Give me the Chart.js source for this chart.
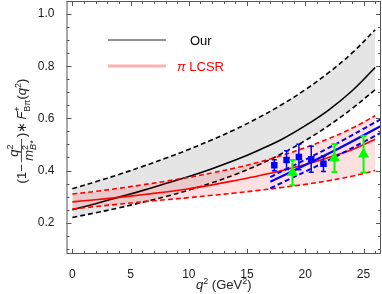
<!DOCTYPE html>
<html>
<head>
<meta charset="utf-8">
<script src="https://cdn.jsdelivr.net/npm/chart.js@4.4.1/dist/chart.umd.min.js"></script>
<style>
  body { margin: 0; background: #fff; }
  canvas { display: block; }
</style>
</head>
<body>
<canvas id="ffChart" width="382" height="294"></canvas>
<script>
// q^2 grid for the two bands
const qGrid = [0, 2, 4, 6, 8, 10, 12, 14, 16, 18, 20, 22, 24, 26];
const ourCentral = [0.25, 0.273, 0.298, 0.323, 0.35, 0.377, 0.407, 0.44, 0.478, 0.52, 0.572, 0.632, 0.705, 0.795];
const ourUpper = [0.33, 0.357, 0.385, 0.415, 0.447, 0.481, 0.518, 0.558, 0.603, 0.653, 0.71, 0.775, 0.85, 0.94];
const ourLower = [0.22, 0.238, 0.257, 0.278, 0.30, 0.325, 0.353, 0.385, 0.422, 0.465, 0.515, 0.572, 0.637, 0.71];
const lcsrCentral = [0.28, 0.288, 0.297, 0.307, 0.318, 0.33, 0.345, 0.362, 0.38, 0.40, 0.423, 0.45, 0.48, 0.52];
const lcsrUpper = [0.31, 0.32, 0.332, 0.345, 0.359, 0.374, 0.391, 0.41, 0.432, 0.458, 0.488, 0.522, 0.562, 0.61];
const lcsrLower = [0.252, 0.262, 0.271, 0.28, 0.288, 0.296, 0.305, 0.314, 0.324, 0.335, 0.347, 0.361, 0.378, 0.40];

// lattice fit (blue lines)
const latQ = [17, 22, 26.5];
const latCentral = [0.357, 0.465, 0.571];
const latUpper = [0.375, 0.487, 0.597];
const latLower = [0.332, 0.44, 0.545];

// data points
const sqQ = [17.34, 18.39, 19.45, 20.51, 21.56];
const sqVal = [0.42, 0.44, 0.452, 0.443, 0.426];
const sqErr = [0.021, 0.036, 0.049, 0.05, 0.03];
const triQ = [18.9, 22.5, 25.0];
const triVal = [0.392, 0.448, 0.462];
const triErr = [0.048, 0.054, 0.07];

// ticks
const xTicks = [0, 5, 10, 15, 20, 25];
const yTicks = [0.2, 0.4, 0.6, 0.8, 1.0];

const FONT = '"Liberation Sans", Arial, sans-serif';

function pts(xs, ys) {
    return xs.map((x, i) => ({ x: x, y: ys[i] }));
}

function curve(xs, ys, color, dashed, extra) {
    return Object.assign({
        data: pts(xs, ys),
        borderColor: color,
        borderWidth: 1.6,
        borderDash: dashed ? [5, 3] : [],
        pointRadius: 0,
        fill: false,
        tension: 0.4
    }, extra || {});
}

// error bars for the two point sets
const errorBars = {
    id: 'errorBars',
    afterDatasetsDraw(chart) {
        const x = chart.scales.x, y = chart.scales.y, ctx = chart.ctx;
        const sets = [
            { q: sqQ, v: sqVal, e: sqErr, color: '#0000ff', w: 1.5, cap: 2.5 },
            { q: triQ, v: triVal, e: triErr, color: '#00ff00', w: 2, cap: 3 }
        ];
        ctx.save();
        sets.forEach(s => {
            ctx.strokeStyle = s.color;
            ctx.lineWidth = s.w;
            s.q.forEach((q, i) => {
                const px = x.getPixelForValue(q);
                const top = y.getPixelForValue(s.v[i] + s.e[i]);
                const bot = y.getPixelForValue(s.v[i] - s.e[i]);
                ctx.beginPath();
                ctx.moveTo(px, top); ctx.lineTo(px, bot);
                ctx.moveTo(px - s.cap, top); ctx.lineTo(px + s.cap, top);
                ctx.moveTo(px - s.cap, bot); ctx.lineTo(px + s.cap, bot);
                ctx.stroke();
            });
        });
        ctx.restore();
    }
};

// frame with inward ticks, legend and axis titles
const decorations = {
    id: 'decorations',
    afterDraw(chart) {
        const ctx = chart.ctx, a = chart.chartArea;
        const x = chart.scales.x, y = chart.scales.y;
        ctx.save();
        ctx.strokeStyle = '#555';
        ctx.lineWidth = 1;
        ctx.strokeRect(a.left + 0.5, a.top + 0.5, a.right - a.left - 1, a.bottom - a.top - 1);
        ctx.beginPath();
        for (let v = 0; v <= 26; v++) {
            const px = Math.round(x.getPixelForValue(v)) + 0.5;
            const len = v % 5 === 0 ? 5 : 3;
            ctx.moveTo(px, a.bottom); ctx.lineTo(px, a.bottom - len);
            ctx.moveTo(px, a.top); ctx.lineTo(px, a.top + len);
        }
        for (let k = 2; k <= 21; k++) {
            const v = k * 0.05;
            const py = Math.round(y.getPixelForValue(v)) + 0.5;
            const len = k % 4 === 0 ? 5 : 3;
            ctx.moveTo(a.left, py); ctx.lineTo(a.left + len, py);
            ctx.moveTo(a.right, py); ctx.lineTo(a.right - len, py);
        }
        ctx.stroke();

        // legend
        ctx.lineWidth = 1;
        ctx.strokeStyle = '#222';
        ctx.beginPath(); ctx.moveTo(108, 40); ctx.lineTo(166, 40); ctx.stroke();
        ctx.lineWidth = 3;
        ctx.strokeStyle = '#ffb0b0';
        ctx.beginPath(); ctx.moveTo(108, 66); ctx.lineTo(166, 66); ctx.stroke();
        ctx.textBaseline = 'alphabetic';
        ctx.textAlign = 'left';
        ctx.fillStyle = '#000';
        ctx.font = '13px ' + FONT;
        ctx.fillText('Our', 190, 45);
        ctx.fillStyle = '#ff0000';
        ctx.font = 'italic 13px ' + FONT;
        ctx.fillText('π', 177, 71);
        const piW = ctx.measureText('π ').width;
        ctx.font = '13px ' + FONT;
        ctx.fillText('LCSR', 177 + piW, 71);

        // x title
        ctx.fillStyle = '#222';
        const xt = [
            { t: 'q', f: 'italic 13px ' + FONT, dy: 0 },
            { t: '2', f: '9px ' + FONT, dy: -5 },
            { t: ' (GeV', f: '13px ' + FONT, dy: 0 },
            { t: '2', f: '9px ' + FONT, dy: -5 },
            { t: ')', f: '13px ' + FONT, dy: 0 }
        ];
        let tw = 0;
        xt.forEach(p => { ctx.font = p.f; p.w = ctx.measureText(p.t).width; tw += p.w; });
        let cx = (a.left + a.right) / 2 - tw / 2;
        xt.forEach(p => { ctx.font = p.f; ctx.fillText(p.t, cx, 289 + p.dy); cx += p.w; });

        drawYTitle(ctx);
        ctx.restore();
    }
};

function drawYTitle(ctx) {
    const big = '13px ' + FONT, bigIt = 'italic 13px ' + FONT;
    const sm = '9px ' + FONT, smIt = 'italic 9px ' + FONT;
    const w = (t, f) => { ctx.font = f; return ctx.measureText(t).width; };
    ctx.save();
    ctx.translate(26, 131);
    ctx.rotate(-Math.PI / 2);
    ctx.fillStyle = '#222';
    ctx.strokeStyle = '#222';

    const numW = w('q', bigIt) + w('2', sm);
    const denW = w('m', bigIt) + Math.max(w('2', sm), w('B*', smIt));
    const fracW = Math.max(numW, denW) + 3;
    const gap = 2;
    const parts = w('(1−', big) + gap + fracW + gap + w(')', big) + w('∗', big) + gap + w('F', bigIt) +
        Math.max(w('+', sm), w('Bπ', sm)) + w('(', big) + w('q', bigIt) + w('2', sm) + w(')', big);
    let u = -parts / 2;
    const put = (t, f, v) => { ctx.font = f; ctx.fillText(t, u, v); u += ctx.measureText(t).width; };

    put('(1−', big, 0);
    u += gap;
    // fraction
    const f0 = u;
    u = f0 + (fracW - numW) / 2;
    put('q', bigIt, -8);
    put('2', sm, -13);
    u = f0 + (fracW - denW) / 2;
    put('m', bigIt, 7);
    const su = u;
    put('2', sm, 2);
    u = su;
    put('B*', smIt, 10);
    ctx.lineWidth = 0.8;
    ctx.beginPath(); ctx.moveTo(f0, -4.5); ctx.lineTo(f0 + fracW, -4.5); ctx.stroke();
    u = f0 + fracW + gap;
    put(')', big, 0);
    put('∗', big, 0);
    u += gap;
    put('F', bigIt, 0);
    const s0 = u;
    put('+', sm, -6);
    const e1 = u;
    u = s0;
    put('Bπ', sm, 4);
    u = Math.max(u, e1);
    put('(', big, 0);
    put('q', bigIt, 0);
    put('2', sm, -5);
    put(')', big, 0);
    ctx.restore();
}

function noPad(s) {
    s.paddingLeft = 0; s.paddingRight = 0; s.paddingTop = 0; s.paddingBottom = 0;
}

const ctxFF = document.getElementById('ffChart').getContext('2d');
new Chart(ctxFF, {
    type: 'line',
    data: {
        datasets: [
            curve(qGrid, ourUpper, '#000', true, { fill: 2, backgroundColor: 'rgba(0,0,0,0.1)', order: 4 }),
            curve(qGrid, ourCentral, '#000', false, { order: 4 }),
            curve(qGrid, ourLower, '#000', true, { order: 4 }),
            curve(qGrid, lcsrUpper, '#ff0000', true, { fill: 5, backgroundColor: 'rgba(255,0,0,0.12)', order: 3 }),
            curve(qGrid, lcsrCentral, '#ff0000', false, { order: 3 }),
            curve(qGrid, lcsrLower, '#ff0000', true, { order: 3 }),
            curve(latQ, latUpper, '#0000ff', true, { borderWidth: 2, order: 2 }),
            curve(latQ, latCentral, '#0000ff', false, { borderWidth: 2.2, order: 2 }),
            curve(latQ, latLower, '#0000ff', true, { borderWidth: 2, order: 2 }),
            {
                data: pts(sqQ, sqVal), showLine: false, pointStyle: 'rect', pointRadius: 4.6,
                backgroundColor: '#0000ff', borderColor: '#0000ff', borderWidth: 0, order: 1
            },
            {
                data: pts(triQ, triVal), showLine: false, pointStyle: 'triangle', pointRadius: 6.5,
                backgroundColor: '#00ff00', borderColor: '#00ff00', borderWidth: 0, order: 0
            }
        ]
    },
    options: {
        responsive: false,
        animation: false,
        layout: { autoPadding: false, padding: { top: 1, right: 1 } },
        plugins: { legend: { display: false }, tooltip: { enabled: false } },
        scales: {
            x: {
                type: 'linear', min: -0.5, max: 26.5,
                grid: { display: false }, border: { display: false },
                ticks: { color: '#222', font: { family: FONT, size: 12 }, padding: 5 },
                afterBuildTicks: s => { s.ticks = xTicks.map(v => ({ value: v })); },
                afterFit: s => { s.height = 40; noPad(s); }
            },
            y: {
                type: 'linear', min: 0.08, max: 1.05,
                grid: { display: false }, border: { display: false },
                ticks: { color: '#222', font: { family: FONT, size: 12 }, padding: 4,
                    callback: v => v.toFixed(1) },
                afterBuildTicks: s => { s.ticks = yTicks.map(v => ({ value: v })); },
                afterFit: s => { s.width = 66.5; noPad(s); }
            }
        }
    },
    plugins: [errorBars, decorations]
});
</script>
</body>
</html>
